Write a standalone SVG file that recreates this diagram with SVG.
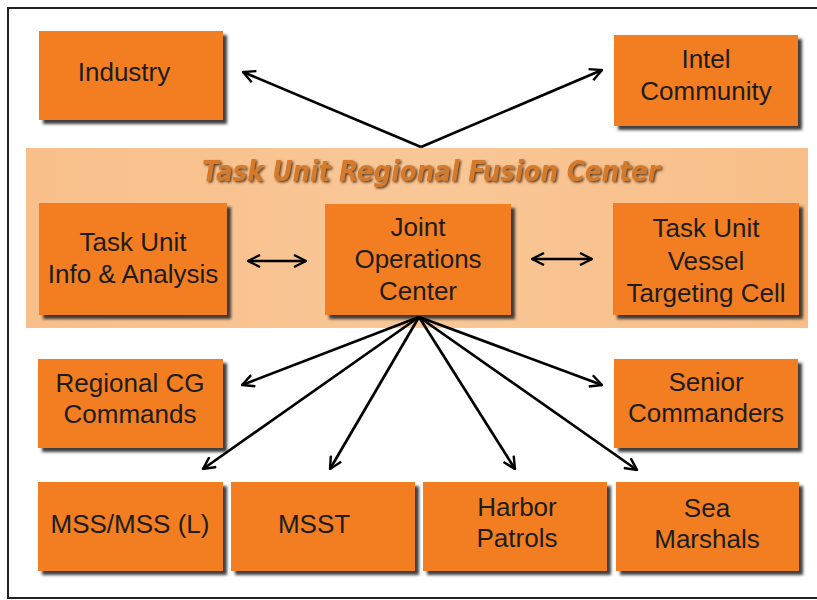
<svg xmlns="http://www.w3.org/2000/svg" width="817" height="600" viewBox="0 0 817 600">
<defs>
<filter id="sh" x="-10%" y="-10%" width="130%" height="130%">
<feDropShadow dx="4" dy="4" stdDeviation="1.5" flood-color="#2a2a2a" flood-opacity="0.9"/>
</filter>
<filter id="tsh" x="-5%" y="-20%" width="110%" height="150%">
<feDropShadow dx="1.5" dy="1.5" stdDeviation="0.8" flood-color="#4a2e12" flood-opacity="0.9"/>
</filter>
<linearGradient id="band" x1="0" y1="0" x2="1" y2="0">
<stop offset="0" stop-color="#f8bf8a"/>
<stop offset="0.5" stop-color="#f9c797"/>
<stop offset="1" stop-color="#f8be88"/>
</linearGradient>
<marker id="ah" viewBox="0 0 14 14" refX="13" refY="7" markerWidth="14" markerHeight="14" markerUnits="userSpaceOnUse" orient="auto-start-reverse">
<path d="M1,1 L13,7 L1,13" fill="none" stroke="#000" stroke-width="2.4"/>
</marker>
</defs>
<style>
.box{fill:#f37e21;filter:url(#sh)}
.t{font-family:"Liberation Sans",Arial,sans-serif;font-size:26px;fill:#1c1c1c;text-anchor:middle}
.c{fill:none;stroke:#000;stroke-width:2.7;marker-end:url(#ah)}
.d{fill:none;stroke:#000;stroke-width:2.7;marker-end:url(#ah);marker-start:url(#ah)}
</style>
<rect x="0" y="0" width="817" height="600" fill="#fff"/>
<rect x="8" y="8" width="812" height="590" fill="#fff" stroke="#222" stroke-width="2"/>
<g id="fusion-center">
<rect x="26" y="148" width="782" height="180" fill="url(#band)"/>
<text x="431" y="181" font-family="'DejaVu Sans',Verdana,sans-serif" font-weight="bold" font-style="italic" font-size="28" fill="#d47a2c" text-anchor="middle" textLength="458" lengthAdjust="spacingAndGlyphs" filter="url(#tsh)">Task Unit Regional Fusion Center</text>
</g>
<g id="industry"><rect class="box" x="39" y="31" width="184" height="89"/><text class="t" x="124" y="81">Industry</text></g>
<g id="intel"><rect class="box" x="614" y="35" width="184" height="91"/><text class="t" x="706" y="68">Intel</text><text class="t" x="706" y="100">Community</text></g>
<g id="info-analysis"><rect class="box" x="39" y="203" width="188" height="112"/><text class="t" x="133" y="251">Task Unit</text><text class="t" x="133" y="283">Info &amp; Analysis</text></g>
<g id="joc"><rect class="box" x="325" y="204" width="186" height="111"/><text class="t" x="418" y="236">Joint</text><text class="t" x="418" y="268">Operations</text><text class="t" x="418" y="300">Center</text></g>
<g id="vessel-targeting"><rect class="box" x="613" y="203" width="186" height="112"/><text class="t" x="706" y="237">Task Unit</text><text class="t" x="706" y="270">Vessel</text><text class="t" x="706" y="302">Targeting Cell</text></g>
<g id="regional-cg"><rect class="box" x="38" y="359" width="185" height="89"/><text class="t" x="130" y="392">Regional CG</text><text class="t" x="130" y="423">Commands</text></g>
<g id="senior"><rect class="box" x="614" y="359" width="184" height="89"/><text class="t" x="706" y="391">Senior</text><text class="t" x="706" y="422">Commanders</text></g>
<g id="mss"><rect class="box" x="38" y="482" width="185" height="89"/><text class="t" x="130" y="533">MSS/MSS (L)</text></g>
<g id="msst"><rect class="box" x="231" y="482" width="184" height="89"/><text class="t" x="314" y="533">MSST</text></g>
<g id="harbor"><rect class="box" x="423" y="482" width="184" height="89"/><text class="t" x="517" y="516">Harbor</text><text class="t" x="517" y="547">Patrols</text></g>
<g id="sea-marshals"><rect class="box" x="616" y="482" width="183" height="89"/><text class="t" x="707" y="517">Sea</text><text class="t" x="707" y="548">Marshals</text></g>
<g id="connectors">
<path class="c" d="M421,147 L243,72"/>
<path class="c" d="M421,147 L602,70"/>
<path class="d" d="M248,261 L306,261"/>
<path class="d" d="M532,259 L592,259"/>
<path class="c" d="M419,317 L242,385"/>
<path class="c" d="M419,317 L203,469"/>
<path class="c" d="M419,317 L330,469"/>
<path class="c" d="M419,317 L515,469"/>
<path class="c" d="M419,317 L637,470"/>
<path class="c" d="M419,317 L602,385"/>
</g>
</svg>
